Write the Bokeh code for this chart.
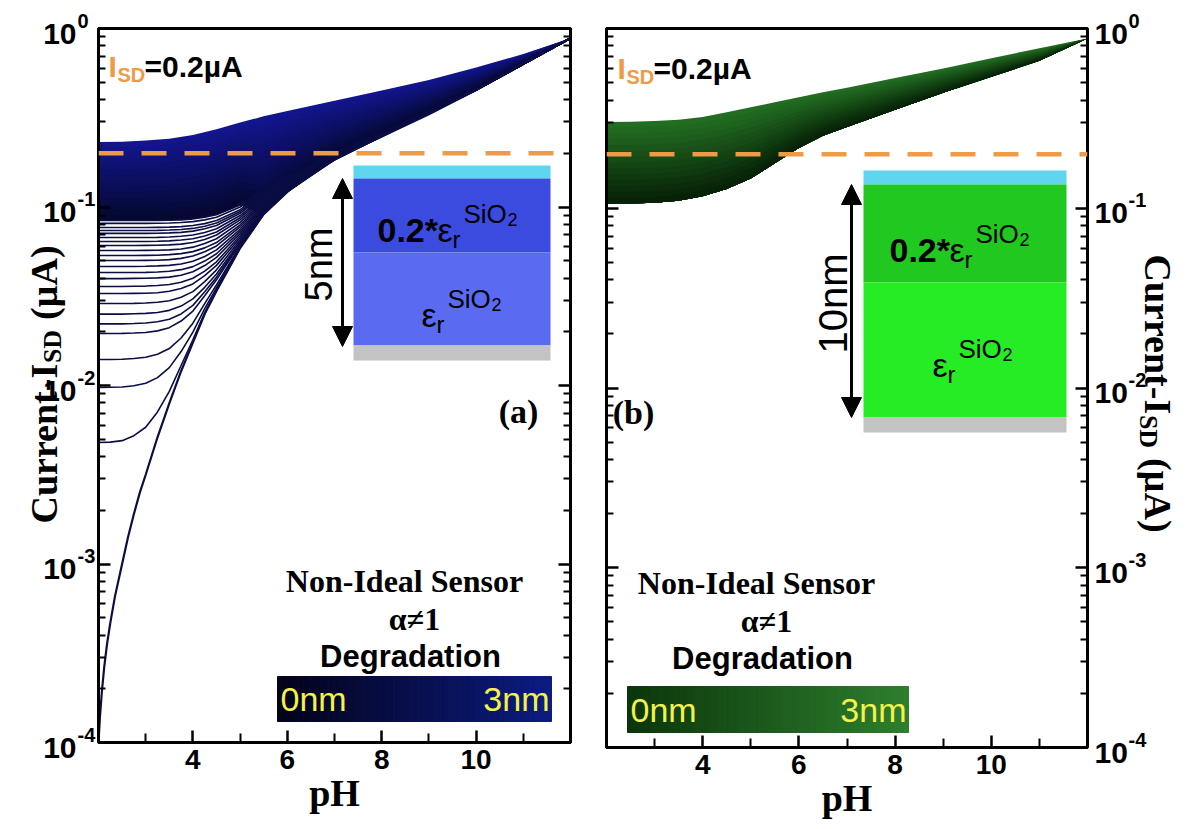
import math

from bokeh.embed import file_html
from bokeh.layouts import row
from bokeh.models import (Arrow, FixedTicker, Label, LogAxis, NormalHead, Range1d, Span)
from bokeh.plotting import figure
from bokeh.resources import INLINE

# ---------------------------------------------------------------- data
# Currents are stored as log10(I_SD / uA).

# Panel (a): 5 nm stack, degradation layer 0 -> 3 nm
ph_env_a = [2.0, 2.5, 3.0, 3.5, 4.0, 4.5, 5.0, 5.5, 6.0, 7.0, 8.0, 9.0, 10.0, 11.0, 12.0]
log_top_a = [-0.636, -0.634, -0.628, -0.617, -0.597, -0.565, -0.527, -0.492, -0.462,
             -0.405, -0.347, -0.288, -0.219, -0.143, -0.055]
log_floor_a = [-1.076, -1.076, -1.076, -1.074, -1.067, -1.043, -0.989, -1.040, -0.915,
               -0.735, -0.605, -0.480, -0.345, -0.195, -0.055]

ph_low_a = [2.0, 2.03, 2.07, 2.12, 2.18, 2.25, 2.35, 2.5, 2.625, 2.75, 2.875, 3.0, 3.25,
            3.5, 3.75, 4.0, 4.25, 4.5, 5.0, 5.5, 6.0, 6.5, 7.0, 7.5, 8.0, 9.0, 10.0, 11.0, 12.0]
log_low_a = [-4.0, -3.86, -3.72, -3.58, -3.45, -3.33, -3.18, -3.00, -2.85, -2.72, -2.60,
             -2.50, -2.29, -2.10, -1.92, -1.76, -1.60, -1.47, -1.23, -1.04, -0.915, -0.815,
             -0.735, -0.665, -0.605, -0.48, -0.345, -0.195, -0.055]

ph_fan_a = [2.0, 2.25, 2.5, 2.75, 3.0, 3.25, 3.5, 3.75, 4.0, 4.25, 4.5, 5.0, 5.5, 6.0,
            7.0, 8.0, 10.0, 12.0]
log_fan_a = [
    [-1.076, -1.076, -1.076, -1.076, -1.076, -1.075, -1.074, -1.072, -1.067, -1.057, -1.043, -0.989, -0.907, -0.830, -0.694, -0.581, -0.338, -0.053],
    [-1.092, -1.092, -1.092, -1.092, -1.092, -1.091, -1.090, -1.087, -1.082, -1.072, -1.057, -1.000, -0.914, -0.835, -0.697, -0.583, -0.338, -0.053],
    [-1.115, -1.115, -1.115, -1.115, -1.115, -1.114, -1.113, -1.110, -1.104, -1.093, -1.076, -1.015, -0.924, -0.842, -0.700, -0.585, -0.339, -0.054],
    [-1.132, -1.132, -1.132, -1.132, -1.132, -1.131, -1.129, -1.126, -1.120, -1.108, -1.090, -1.025, -0.931, -0.847, -0.703, -0.587, -0.339, -0.054],
    [-1.148, -1.148, -1.148, -1.148, -1.148, -1.147, -1.145, -1.142, -1.135, -1.122, -1.104, -1.035, -0.937, -0.851, -0.705, -0.588, -0.340, -0.054],
    [-1.171, -1.171, -1.171, -1.171, -1.171, -1.170, -1.168, -1.164, -1.157, -1.143, -1.122, -1.048, -0.945, -0.857, -0.708, -0.590, -0.340, -0.054],
    [-1.193, -1.193, -1.193, -1.193, -1.193, -1.192, -1.190, -1.185, -1.178, -1.162, -1.140, -1.060, -0.953, -0.862, -0.710, -0.591, -0.341, -0.054],
    [-1.216, -1.216, -1.216, -1.216, -1.215, -1.214, -1.212, -1.208, -1.199, -1.182, -1.157, -1.072, -0.961, -0.867, -0.712, -0.592, -0.341, -0.055],
    [-1.244, -1.244, -1.244, -1.244, -1.243, -1.242, -1.240, -1.235, -1.225, -1.205, -1.178, -1.086, -0.968, -0.872, -0.715, -0.594, -0.342, -0.055],
    [-1.272, -1.272, -1.272, -1.272, -1.271, -1.270, -1.267, -1.261, -1.250, -1.229, -1.199, -1.100, -0.976, -0.877, -0.717, -0.595, -0.342, -0.055],
    [-1.300, -1.300, -1.300, -1.300, -1.299, -1.298, -1.295, -1.288, -1.275, -1.251, -1.218, -1.112, -0.983, -0.881, -0.719, -0.596, -0.343, -0.055],
    [-1.333, -1.333, -1.333, -1.333, -1.332, -1.330, -1.327, -1.319, -1.304, -1.277, -1.240, -1.125, -0.990, -0.885, -0.722, -0.597, -0.343, -0.055],
    [-1.367, -1.367, -1.367, -1.367, -1.366, -1.364, -1.360, -1.351, -1.334, -1.303, -1.262, -1.137, -0.996, -0.889, -0.723, -0.598, -0.343, -0.055],
    [-1.401, -1.401, -1.401, -1.400, -1.399, -1.397, -1.393, -1.382, -1.363, -1.328, -1.282, -1.149, -1.002, -0.893, -0.725, -0.599, -0.344, -0.055],
    [-1.445, -1.445, -1.445, -1.444, -1.443, -1.440, -1.434, -1.422, -1.399, -1.359, -1.307, -1.161, -1.009, -0.897, -0.727, -0.600, -0.344, -0.055],
    [-1.485, -1.485, -1.485, -1.484, -1.483, -1.480, -1.472, -1.457, -1.431, -1.384, -1.327, -1.172, -1.014, -0.900, -0.728, -0.601, -0.344, -0.055],
    [-1.541, -1.541, -1.541, -1.540, -1.538, -1.534, -1.525, -1.506, -1.474, -1.418, -1.352, -1.183, -1.019, -0.903, -0.730, -0.602, -0.345, -0.055],
    [-1.600, -1.600, -1.600, -1.598, -1.596, -1.591, -1.579, -1.555, -1.515, -1.450, -1.375, -1.194, -1.024, -0.906, -0.731, -0.603, -0.345, -0.055],
    [-1.655, -1.655, -1.655, -1.653, -1.650, -1.643, -1.629, -1.599, -1.551, -1.475, -1.393, -1.201, -1.027, -0.908, -0.732, -0.603, -0.345, -0.055],
    [-1.709, -1.709, -1.708, -1.706, -1.703, -1.694, -1.676, -1.639, -1.583, -1.497, -1.408, -1.207, -1.030, -0.909, -0.733, -0.604, -0.345, -0.055],
    [-1.854, -1.854, -1.853, -1.849, -1.842, -1.825, -1.793, -1.734, -1.651, -1.541, -1.436, -1.218, -1.035, -0.912, -0.734, -0.604, -0.345, -0.055],
    [-2.011, -2.010, -2.008, -2.001, -1.987, -1.956, -1.900, -1.810, -1.701, -1.569, -1.453, -1.224, -1.037, -0.913, -0.735, -0.605, -0.345, -0.055],
    [-2.319, -2.317, -2.309, -2.281, -2.234, -2.148, -2.033, -1.888, -1.744, -1.592, -1.466, -1.229, -1.040, -0.915, -0.735, -0.605, -0.345, -0.055],
]

# Panel (b): 10 nm stack, degradation layer 0 -> 3 nm
ph_b = [2.0, 2.5, 3.0, 3.5, 4.0, 4.5, 5.0, 5.5, 6.0, 6.5, 7.0, 8.0, 9.0, 10.0, 11.0, 12.0]
log_top_b = [-0.520, -0.519, -0.515, -0.507, -0.492, -0.466, -0.438, -0.410, -0.382,
             -0.355, -0.329, -0.275, -0.222, -0.165, -0.110, -0.055]
log_bottom_b = [-0.974, -0.973, -0.969, -0.958, -0.933, -0.893, -0.835, -0.750, -0.665,
                -0.597, -0.548, -0.452, -0.357, -0.268, -0.180, -0.055]

isd_ref = 0.2                      # uA, operating current
ph_major = [4, 6, 8, 10]
ph_minor = [3, 5, 7, 9, 11]
decades = [0, -1, -2, -3, -4]
thickness_nm = [0.0, 3.0]

# ---------------------------------------------------------------- style
SANS = "Liberation Sans"
SERIF = "Liberation Serif"
NAVY_LINE = "#0b0d44"
ORANGE = "#ef9a46"
CYAN = "#5fd5ef"
GRAY = "#c3c3c3"
YELLOW = "#f2f24a"

PAGE_H = 828
TL_W = 96                                   # left title strip
GEOM_A = dict(left=TL_W, width=494, x0=98, x1=570, y0=28, y1=742)
GEOM_B = dict(left=590, width=501, x0=606, x1=1087, y0=28, y1=747)
TR_LEFT = 1091                              # right title strip
TR_W = 1199 - TR_LEFT


def pow10(vals):
    return [10.0 ** v for v in vals]


def converters(g):
    """Page-pixel position -> (pH, current) inside a panel."""
    def fx(xp):
        return 2.0 + (xp - g["x0"]) * 10.0 / (g["x1"] - g["x0"])

    def fy(yp):
        return 10.0 ** (-4.0 * (yp - g["y0"]) / (g["y1"] - g["y0"]))
    return fx, fy


def strip_converters(left):
    return (lambda xp: xp - left), (lambda yp: yp)


def put(p, conv, xp, yp, text, size, font=SANS, style="bold", color="black",
        align="left", baseline="alphabetic", angle=0.0):
    fx, fy = conv
    p.add_layout(Label(x=fx(xp), y=fy(yp), text=text, text_font=font,
                       text_font_size=f"{size}px", text_font_style=style,
                       text_color=color, text_align=align, text_baseline=baseline,
                       angle=angle))


def blend(c0, c1, t):
    a = [int(c0[i:i + 2], 16) for i in (1, 3, 5)]
    b = [int(c1[i:i + 2], 16) for i in (1, 3, 5)]
    return "#" + "".join(f"{round(u + (v - u) * t):02x}" for u, v in zip(a, b))


def text_strip(width):
    s = figure(width=width, height=PAGE_H, x_range=Range1d(0, width),
               y_range=Range1d(PAGE_H, 0), x_axis_location=None, y_axis_location=None,
               output_backend="svg", toolbar_location=None, min_border=0,
               frame_align=False)
    s.grid.visible = False
    s.outline_line_color = None
    return s


def make_panel(g, y_side):
    p = figure(width=g["width"], height=PAGE_H, x_range=Range1d(2, 12),
               y_range=Range1d(1e-4, 1), y_axis_type="log", y_axis_location=y_side,
               output_backend="svg", toolbar_location=None, frame_align=False,
               min_border_left=g["x0"] - g["left"],
               min_border_right=g["left"] + g["width"] - g["x1"],
               min_border_top=g["y0"], min_border_bottom=PAGE_H - g["y1"])
    p.grid.visible = False
    p.outline_line_color = "black"
    p.outline_line_width = 3
    p.add_layout(LogAxis(), "right" if y_side == "left" else "left")

    y_ticker = FixedTicker(ticks=[10.0 ** k for k in decades],
                           minor_ticks=[m * 10.0 ** k for k in decades[1:] for m in range(2, 10)])
    for ax in list(p.yaxis):
        ax.ticker = y_ticker
        ax.major_label_text_font_size = "1px"
        ax.major_label_text_alpha = 0.0
        ax.major_label_standoff = 0
    for ax in list(p.yaxis) + list(p.xaxis):
        ax.axis_line_width = 3
        ax.axis_line_color = "black"
        ax.major_tick_line_color = "black"
        ax.minor_tick_line_color = "black"
        ax.major_tick_in = 12
        ax.major_tick_out = 0
        ax.minor_tick_in = 7
        ax.minor_tick_out = 0
        ax.major_tick_line_width = 2.5
        ax.minor_tick_line_width = 2
    xa = p.xaxis[0]
    xa.ticker = FixedTicker(ticks=ph_major, minor_ticks=ph_minor)
    xa.minor_tick_in = 9
    xa.major_label_text_font = SANS
    xa.major_label_text_font_style = "bold"
    xa.major_label_text_font_size = "28px"
    xa.major_label_text_color = "black"
    xa.major_label_standoff = 7
    xa.axis_label = "pH"
    xa.axis_label_text_font = SERIF
    xa.axis_label_text_font_style = "bold"
    xa.axis_label_text_font_size = "38px"
    xa.axis_label_text_color = "black"
    xa.axis_label_standoff = 0
    return p


def shaded_band(p, x, log_lo, log_hi, c_lo, c_hi, k=14):
    # vertical shading from the lower edge (c_lo) to the upper edge (c_hi)
    for j in range(k, 0, -1):
        t = j / k
        upper = [10.0 ** (a + (b - a) * t) for a, b in zip(log_lo, log_hi)]
        p.varea(x=x, y1=pow10(log_lo), y2=upper, fill_color=blend(c_lo, c_hi, (j - 0.5) / k))


def decade_labels(s, conv, g, side):
    span = g["y1"] - g["y0"]
    for k in decades:
        yp = g["y0"] - k * span / 4.0
        if side == "left":
            put(s, conv, g["x0"] - 22, yp + 5, "10", 30, align="right", baseline="middle")
            put(s, conv, g["x0"] - 21, yp - 8, str(k), 20, baseline="middle")
        else:
            put(s, conv, g["x1"] + 7, yp + 5, "10", 30, baseline="middle")
            put(s, conv, g["x1"] + 41, yp - 8, str(k), 20, baseline="middle")


def vertical_title(s, conv, x_base, y_start, direction):
    # direction +1 reads bottom-to-top, -1 reads top-to-bottom
    pieces = [("Current-I", 38, 0.0, 160.4), ("SD", 26, 9.0, 43.0), ("(\u00b5A)", 38, 0.0, 74.0)]
    y = y_start
    for text, size, drop, advance in pieces:
        put(s, conv, x_base + direction * drop, y, text, size, font=SERIF,
            angle=direction * math.pi / 2)
        y -= direction * advance


def isd_note(p, conv, x_start, baseline):
    put(p, conv, x_start, baseline, "I", 30, color=ORANGE)
    put(p, conv, x_start + 9, baseline + 8, "SD", 20, color=ORANGE)
    put(p, conv, x_start + 36, baseline, "=0.2\u00b5A", 30)


def layer_stack(p, conv, x_l, x_r, edges, colors):
    fx, fy = conv
    n = len(colors)
    p.quad(left=[fx(x_l)] * n, right=[fx(x_r)] * n,
           top=[fy(edges[i]) for i in range(n)], bottom=[fy(edges[i + 1]) for i in range(n)],
           fill_color=colors, line_color=None)


def permittivity(p, conv, x, base, big):
    """0.2*eps_r^SiO2 (big=True) or eps_r^SiO2 label, starting at page x."""
    if big:
        put(p, conv, x, base, "0.2*", 34)
        x += 60
    put(p, conv, x, base, "\u03b5", 34, style="normal")
    put(p, conv, x + 15, base + 10, "r", 24, style="normal")
    put(p, conv, x + 26, base - 16, "SiO", 26, style="normal")
    put(p, conv, x + 70, base - 10, "2", 18, style="normal")


def dim_arrow(p, conv, xp, yp_top, yp_bot):
    fx, fy = conv
    head = dict(size=20, fill_color="black", line_color="black")
    p.add_layout(Arrow(x_start=fx(xp), y_start=fy(yp_bot), x_end=fx(xp), y_end=fy(yp_top),
                       start=NormalHead(**head), end=NormalHead(**head),
                       line_width=3, line_color="black"))


def degradation_bar(p, conv, x_l, x_r, y_t, y_b, c0, c1):
    fx, fy = conv
    n = 64
    step = (x_r - x_l) / n
    cols = [blend(c0, c1, i / (n - 1)) for i in range(n)]
    p.quad(left=[fx(x_l + i * step) for i in range(n)],
           right=[fx(x_l + (i + 1) * step) for i in range(n)],
           top=[fy(y_t)] * n, bottom=[fy(y_b)] * n,
           fill_color=cols, line_color=cols, line_width=1)
    ym = (y_t + y_b) / 2
    put(p, conv, x_l + 3, ym, f"{thickness_nm[0]:.0f}nm", 34, style="normal",
        color=YELLOW, baseline="middle")
    put(p, conv, x_r - 2, ym, f"{thickness_nm[1]:.0f}nm", 34, style="normal",
        color=YELLOW, align="right", baseline="middle")


def sensor_caption(p, conv, xc, y_top_line):
    put(p, conv, xc, y_top_line, "Non-Ideal Sensor", 32, font=SERIF, align="center", baseline="middle")
    put(p, conv, xc + 10, y_top_line + 38, "\u03b1\u22601", 32, font=SERIF, align="center", baseline="middle")
    put(p, conv, xc + 6, y_top_line + 76, "Degradation", 31, align="center", baseline="middle")


# ---------------------------------------------------------------- panel (a)
pa = make_panel(GEOM_A, "left")
ca = converters(GEOM_A)
shaded_band(pa, ph_env_a, log_floor_a, log_top_a, "#05072e", "#12168f")
pa.multi_line(xs=[ph_fan_a] * len(log_fan_a), ys=[pow10(r) for r in log_fan_a],
              line_color=NAVY_LINE, line_width=1.6)
pa.line(ph_low_a, pow10(log_low_a), line_color=NAVY_LINE, line_width=2.2)
pa.add_layout(Span(location=isd_ref, dimension="width", line_color=ORANGE,
                   line_width=4.5, line_dash="25 18"))

layer_stack(pa, ca, 353, 550, [165, 178, 252, 345, 360], [CYAN, "#3b4be0", "#5a6bf2", GRAY])
permittivity(pa, ca, 377, 229, True)
permittivity(pa, ca, 421, 314, False)
dim_arrow(pa, ca, 342, 178, 346)
put(pa, ca, 318, 264, "5nm", 38, style="normal", align="center", baseline="middle",
    angle=math.pi / 2)

isd_note(pa, ca, 108, 66)
put(pa, ca, 518, 411, "(a)", 34, font=SERIF, align="center", baseline="middle")
sensor_caption(pa, ca, 404, 580)
degradation_bar(pa, ca, 277, 551, 676, 721, "#03031a", "#0c1b80")

# ---------------------------------------------------------------- panel (b)
pb = make_panel(GEOM_B, "right")
cb = converters(GEOM_B)
shaded_band(pb, ph_b, log_bottom_b, log_top_b, "#061f06", "#237023")
pb.add_layout(Span(location=isd_ref, dimension="width", line_color=ORANGE,
                   line_width=4.5, line_dash="25 18"))

layer_stack(pb, cb, 863, 1066, [170, 184, 282, 417, 432], [CYAN, "#20c820", "#26ec26", GRAY])
permittivity(pb, cb, 889, 249, True)
permittivity(pb, cb, 932, 364, False)
dim_arrow(pb, cb, 851, 184, 417)
put(pb, cb, 832, 303, "10nm", 40, style="normal", align="center", baseline="middle",
    angle=math.pi / 2)

isd_note(pb, cb, 617, 68)
put(pb, cb, 633, 412, "(b)", 34, font=SERIF, align="center", baseline="middle")
sensor_caption(pb, cb, 756, 582)
degradation_bar(pb, cb, 627, 908, 686, 732, "#0b360b", "#2e7e2e")

# ---------------------------------------------------------------- outer strips
tl = text_strip(TL_W)
cl = strip_converters(0)
decade_labels(tl, cl, GEOM_A, "left")
vertical_title(tl, cl, 43, 523, +1)

tr = text_strip(TR_W)
cr = strip_converters(TR_LEFT)
decade_labels(tr, cr, GEOM_B, "right")
vertical_title(tr, cr, 1157, 254, -1)

layout = row(tl, pa, pb, tr)
with open("out.html", "w") as fh:
    fh.write(file_html(layout, INLINE, "Current vs pH"))
